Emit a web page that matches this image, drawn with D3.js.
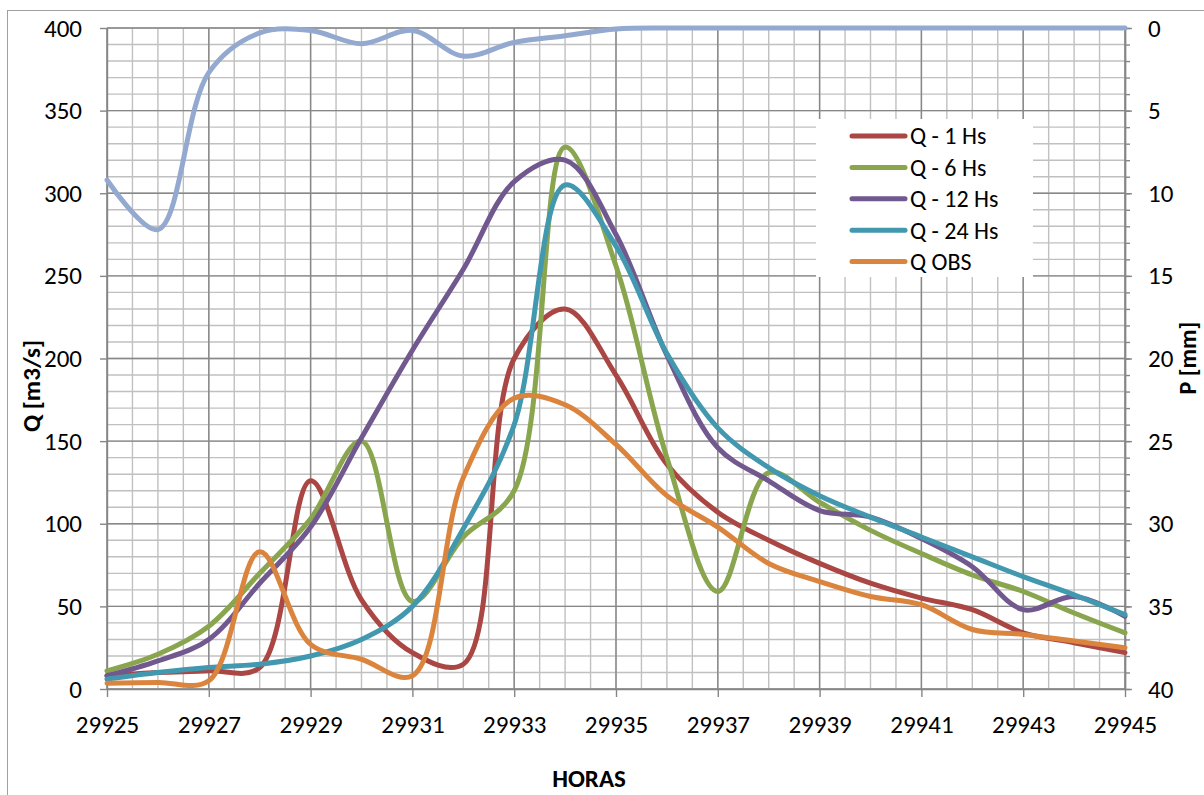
<!DOCTYPE html>
<html>
<head>
<meta charset="utf-8">
<script src="https://cdn.jsdelivr.net/npm/d3@7"></script>
<style>
  html, body { margin: 0; padding: 0; background: #ffffff; }
  svg { display: block; }
  text { font-family: Carlito, "Open Sans", "Noto Sans", sans-serif; fill: #000; }
</style>
</head>
<body>
<svg id="chart" width="1204" height="795"></svg>
<script>
// ---------- DATA ----------
const hours = [29925, 29926, 29927, 29928, 29929, 29930, 29931, 29932, 29933, 29934, 29935,
               29936, 29937, 29938, 29939, 29940, 29941, 29942, 29943, 29944, 29945];
const q1Hs  = [8, 10, 11, 13, 126, 54, 22, 15, 200, 230, 190, 136, 107, 90, 76, 64, 55, 48, 34, 28, 22];
const q6Hs  = [11, 21, 38, 70, 103, 150, 53, 92, 120, 328, 256, 140, 59, 131, 113, 96, 82, 69, 59, 46, 34];
const q12Hs = [8, 17, 30, 64, 98, 152, 205, 254, 307, 320, 275, 202, 146, 126, 108, 104, 91, 74, 48, 56, 44];
const q24Hs = [6, 10, 13, 15, 20, 30, 50, 97, 160, 305, 268, 203, 158, 134, 117, 104, 92, 80, 68, 57, 45];
const qObs  = [3.5, 4, 5, 83, 27, 18, 8, 128, 176, 172, 148, 117, 98, 76, 65, 56, 51, 36, 33, 29, 25];
const precip = [9.2, 12.2, 2.7, 0.3, 0.15, 0.95, 0.15, 1.7, 0.87, 0.47, 0.06, 0, 0, 0, 0, 0, 0, 0, 0, 0, 0];

const seriesNames = ["Q - 1 Hs", "Q - 6 Hs", "Q - 12 Hs", "Q - 24 Hs", "Q OBS"];
const xTicks = [29925, 29927, 29929, 29931, 29933, 29935, 29937, 29939, 29941, 29943, 29945];
const qTicks = [0, 50, 100, 150, 200, 250, 300, 350, 400];
const pTicks = [0, 5, 10, 15, 20, 25, 30, 35, 40];
const xTitle = "HORAS";
const qTitle = "Q [m3/s]";
const pTitle = "P [mm]";

// ---------- STYLE ----------
const colors = ["#AA4643", "#89A54E", "#71588F", "#4198AF", "#DB843D"];
const pColor = "#93A9CF";
const seriesData = [q1Hs, q6Hs, q12Hs, q24Hs, qObs];

const svg = d3.select("#chart");
const L = 107, R = 1125, T = 28, B = 689;

const x = d3.scaleLinear().domain([29925, 29945]).range([L, R]);
const yQ = d3.scaleLinear().domain([0, 400]).range([B, T]);
const yP = d3.scaleLinear().domain([0, 40]).range([T, B]);

// outer border
svg.append("rect").attr("x", 7.5).attr("y", 10.5).attr("width", 1220).attr("height", 820)
  .attr("fill", "none").attr("stroke", "#A0A0A0").attr("stroke-width", 1);

// ---------- GRID ----------
const grid = svg.append("g");
const minorX = d3.range(29925, 29945.01, 0.5);
const minorY = d3.range(0, 400.01, 10);
grid.selectAll("line.mx").data(minorX).join("line")
  .attr("x1", d => x(d)).attr("x2", d => x(d)).attr("y1", T).attr("y2", B)
  .attr("stroke", "#C0C0C0").attr("stroke-width", 1.4);
grid.selectAll("line.my").data(minorY).join("line")
  .attr("x1", L).attr("x2", R).attr("y1", d => yQ(d)).attr("y2", d => yQ(d))
  .attr("stroke", "#C0C0C0").attr("stroke-width", 1.4);
grid.selectAll("line.Mx").data(xTicks).join("line")
  .attr("x1", d => x(d)).attr("x2", d => x(d)).attr("y1", T).attr("y2", B)
  .attr("stroke", "#878787").attr("stroke-width", 1.4);
grid.selectAll("line.My").data(qTicks).join("line")
  .attr("x1", L).attr("x2", R).attr("y1", d => yQ(d)).attr("y2", d => yQ(d))
  .attr("stroke", "#878787").attr("stroke-width", 1.4);

// ---------- AXES ----------
const fontSize = "25px";
function styleAxis(g) {
  g.select(".domain").attr("stroke", "#868686").attr("stroke-width", 1.4);
  g.selectAll(".tick line").attr("stroke", "#868686").attr("stroke-width", 1.4);
  g.selectAll(".tick text").style("font-size", fontSize).attr("fill", "#000");
}
svg.append("g").attr("transform", `translate(${L},0)`)
  .call(d3.axisLeft(yQ).tickValues(qTicks).tickSize(7).tickPadding(18).tickSizeOuter(0))
  .call(styleAxis);
svg.append("g").attr("transform", `translate(0,${B})`)
  .call(d3.axisBottom(x).tickValues(xTicks).tickFormat(d3.format("d")).tickSize(8).tickPadding(18).tickSizeOuter(0))
  .call(styleAxis);
svg.append("g").attr("transform", `translate(${R},0)`)
  .call(d3.axisRight(yP).tickValues(d3.range(0, 41, 1)).tickSize(5).tickFormat("").tickSizeOuter(0))
  .call(styleAxis);
svg.append("g").attr("transform", `translate(${R},0)`)
  .call(d3.axisRight(yP).tickValues(pTicks).tickSize(7).tickPadding(16).tickSizeOuter(0))
  .call(styleAxis);

// ---------- LINES ----------
const curve = d3.curveCatmullRom.alpha(0.5);
const lineQ = d3.line().x((d, i) => x(hours[i])).y(d => yQ(d)).curve(curve);
const lineP = d3.line().x((d, i) => x(hours[i])).y(d => yP(d)).curve(curve);

svg.append("path").datum(precip).attr("d", lineP)
  .attr("fill", "none").attr("stroke", pColor).attr("stroke-width", 5)
  .attr("stroke-linejoin", "round").attr("stroke-linecap", "round");

seriesData.forEach((s, k) => {
  svg.append("path").datum(s).attr("d", lineQ)
    .attr("fill", "none").attr("stroke", colors[k]).attr("stroke-width", 5)
    .attr("stroke-linejoin", "round").attr("stroke-linecap", "round");
});

// ---------- LEGEND ----------
const leg = svg.append("g");
leg.append("rect").attr("x", 816).attr("y", 119).attr("width", 217).attr("height", 158).attr("fill", "#fff");
seriesNames.forEach((n, k) => {
  const yy = 136 + k * 31.4;
  leg.append("line").attr("x1", 852).attr("x2", 905).attr("y1", yy).attr("y2", yy)
    .attr("stroke", colors[k]).attr("stroke-width", 5).attr("stroke-linecap", "round");
  leg.append("text").attr("x", 910).attr("y", yy).attr("dy", "0.35em")
    .style("font-size", "24px").text(n);
});

// ---------- TITLES ----------
svg.append("text").attr("x", 589).attr("y", 787).attr("text-anchor", "middle")
  .style("font-size", fontSize).style("font-weight", "bold").text(xTitle);
svg.append("text").attr("transform", "translate(40,386) rotate(-90)").attr("text-anchor", "middle")
  .style("font-size", fontSize).style("font-weight", "bold").text(qTitle);
svg.append("text").attr("transform", "translate(1196,358) rotate(-90)").attr("text-anchor", "middle")
  .style("font-size", "24px").style("font-weight", "bold").text(pTitle);
</script>
</body>
</html>
